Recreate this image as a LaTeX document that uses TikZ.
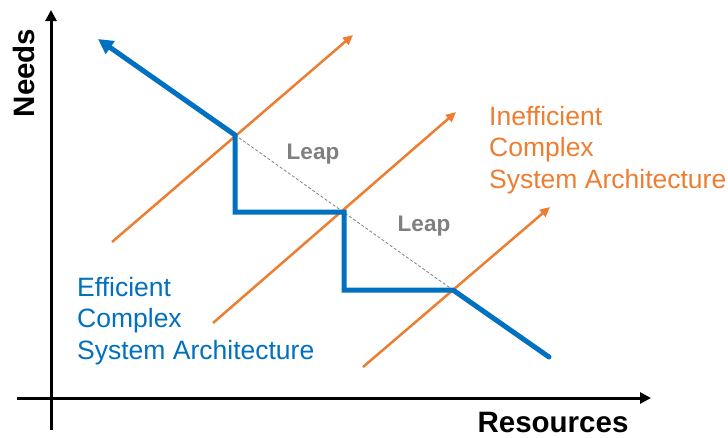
\documentclass[tikz,border=0pt]{standalone}
\usepackage{fontspec}
\setmainfont{Liberation Sans}
\usetikzlibrary{arrows.meta}
\definecolor{cblue}{HTML}{0070C0}
\definecolor{corange}{HTML}{ED7D31}
\definecolor{cgray}{HTML}{808080}
\tikzset{
  axis/.style={line width=3pt,-{Triangle[length=11pt,width=11pt]}},
  bluepath/.style={cblue,line width=5pt,line join=miter,line cap=round},
  orangearrow/.style={corange,line width=2.5pt,-{Triangle[length=10pt,width=9pt]}},
  leapline/.style={cgray,line width=0.8pt,dash pattern=on 3pt off 2pt},
  leaplabel/.style={cgray,font=\fontsize{22.5}{26}\selectfont\bfseries,inner sep=0pt},
  axislabel/.style={font=\fontsize{29.5}{34}\selectfont\bfseries,inner sep=0pt},
  archlabel/.style={align=left,inner sep=0pt,anchor=north west,font=\fontsize{26.5}{31.5}\selectfont}
}
\begin{document}
\begin{tikzpicture}[x=1pt,y=-1pt]
\useasboundingbox (0,0) rectangle (728,437);
% coordinates
\coordinate (yb) at (51,430);
\coordinate (yt) at (51,10);
\coordinate (xl) at (17,398);
\coordinate (xr) at (651,398);
\coordinate (b0) at (98,39);
\coordinate (b1) at (235,135);
\coordinate (b2) at (235,212);
\coordinate (b3) at (344,212);
\coordinate (b4) at (344,290);
\coordinate (b5) at (453,290);
\coordinate (b6) at (549,357);
\coordinate (o1s) at (112,242);
\coordinate (o1e) at (353,35);
\coordinate (o2s) at (213,323);
\coordinate (o2e) at (456,112);
\coordinate (o3s) at (363,367);
\coordinate (o3e) at (550,207);
% axes
\draw[axis] (yb) -- (yt);
\draw[axis] (xl) -- (xr);
\node[axislabel,rotate=90] (needs) at (24,73) {Needs};
\node[axislabel] (res) at (553,422) {Resources};
% orange arrows
\draw[orangearrow] (o1s) -- (o1e);
\draw[orangearrow] (o2s) -- (o2e);
\draw[orangearrow] (o3s) -- (o3e);
% leap line
\draw[leapline] (b1) -- (b5);
% blue path
\draw[bluepath,-{Triangle[length=15pt,width=15pt]}] (b6) -- (b5) -- (b4) -- (b3) -- (b2) -- (b1) -- (b0);
% labels
\node[leaplabel] (leap1) at (313,154) {Leap};
\node[leaplabel] (leap2) at (424,226) {Leap};
\node[archlabel,cblue] (eff) at (77,277) {Efficient\\Complex\\System Architecture};
\node[archlabel,corange] (ineff) at (489,106) {Inefficient\\Complex\\System Architecture};
\end{tikzpicture}
\end{document}
